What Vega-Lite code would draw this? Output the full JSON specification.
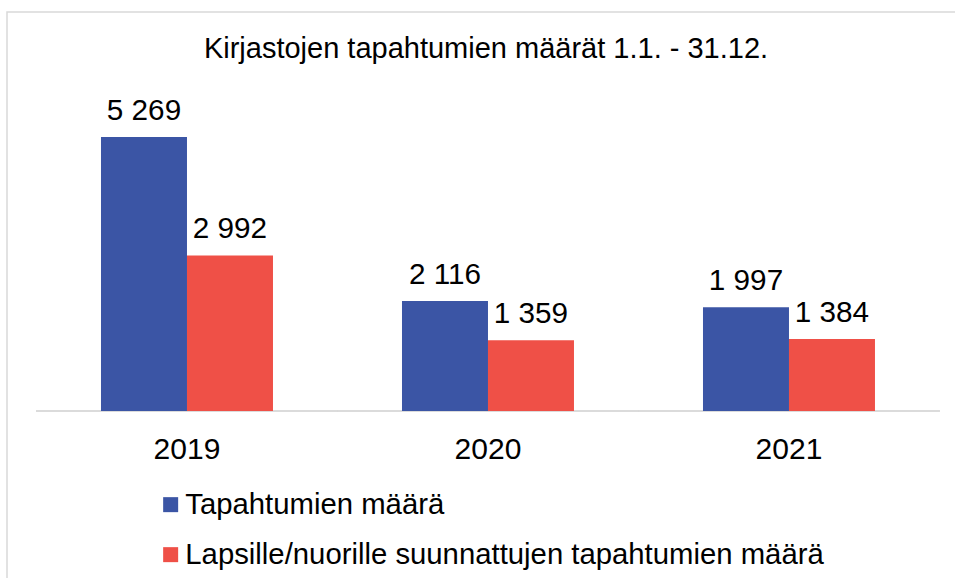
{
  "$schema": "https://vega.github.io/schema/vega-lite/v6.json",
  "autosize": "none",
  "padding": {"left": 7, "top": 12, "right": -4, "bottom": -4},
  "width": 952,
  "height": 570,
  "background": "white",
  "config": {
    "font": "Liberation Sans",
    "view": {"stroke": "#d9d9d9", "strokeWidth": 1.5}
  },
  "title": {
    "text": "Kirjastojen tapahtumien määrät 1.1. - 31.12.",
    "fontSize": 29,
    "fontWeight": "normal",
    "color": "black",
    "anchor": "middle",
    "offset": -75,
    "baseline": "alphabetic",
    "dx": 3
  },
  "data": {
    "values": [
      {"vuosi": "2019", "sarja": "Tapahtumien määrä", "maara": 5269, "teksti": "5 269"},
      {"vuosi": "2019", "sarja": "Lapsille/nuorille suunnattujen tapahtumien määrä", "maara": 2992, "teksti": "2 992"},
      {"vuosi": "2020", "sarja": "Tapahtumien määrä", "maara": 2116, "teksti": "2 116"},
      {"vuosi": "2020", "sarja": "Lapsille/nuorille suunnattujen tapahtumien määrä", "maara": 1359, "teksti": "1 359"},
      {"vuosi": "2021", "sarja": "Tapahtumien määrä", "maara": 1997, "teksti": "1 997"},
      {"vuosi": "2021", "sarja": "Lapsille/nuorille suunnattujen tapahtumien määrä", "maara": 1384, "teksti": "1 384"}
    ]
  },
  "encoding": {
    "x": {
      "field": "vuosi", "type": "nominal",
      "scale": {"paddingInner": 0.4286, "paddingOuter": 0.2957, "align": 0.528},
      "axis": {"title": null, "orient": "bottom", "offset": -171, "domain": false, "ticks": false, "labelFontSize": 30, "labelColor": "black", "labelPadding": 23, "labelAngle": 0, "grid": false}
    },
    "y": {"field": "maara", "type": "quantitative", "scale": {"domain": [-3288, 7673], "nice": false}, "axis": null}
  },
  "layer": [
    {
      "mark": {"type": "tick", "color": "#d9d9d9", "size": 302, "thickness": 1.5, "opacity": 1},
      "encoding": {
        "y": {"datum": 0, "type": "quantitative"}
      }
    },
    {
      "mark": {"type": "bar"},
      "encoding": {
        "xOffset": {
          "field": "sarja", "type": "nominal",
          "scale": {"domain": ["Tapahtumien määrä", "Lapsille/nuorille suunnattujen tapahtumien määrä"], "paddingInner": 0, "paddingOuter": 0}
        },
        "color": {
          "field": "sarja", "type": "nominal",
          "scale": {"domain": ["Tapahtumien määrä", "Lapsille/nuorille suunnattujen tapahtumien määrä"], "range": ["#3B55A5", "#EF5047"]},
          "legend": {"orient": "none", "legendX": 149, "legendY": 478, "title": null, "direction": "vertical", "symbolType": "square", "symbolSize": 225, "symbolStrokeWidth": 0, "symbolOpacity": 1, "labelFontSize": 29.3, "labelColor": "black", "labelOffset": 0, "rowPadding": 20, "labelLimit": 900, "padding": 0}
        }
      }
    },
    {
      "mark": {"type": "text", "fontSize": 29.7, "dy": -17, "baseline": "alphabetic", "color": "black"},
      "encoding": {
        "xOffset": {"field": "sarja", "type": "nominal"},
        "text": {"field": "teksti", "type": "nominal"}
      }
    }
  ]
}
